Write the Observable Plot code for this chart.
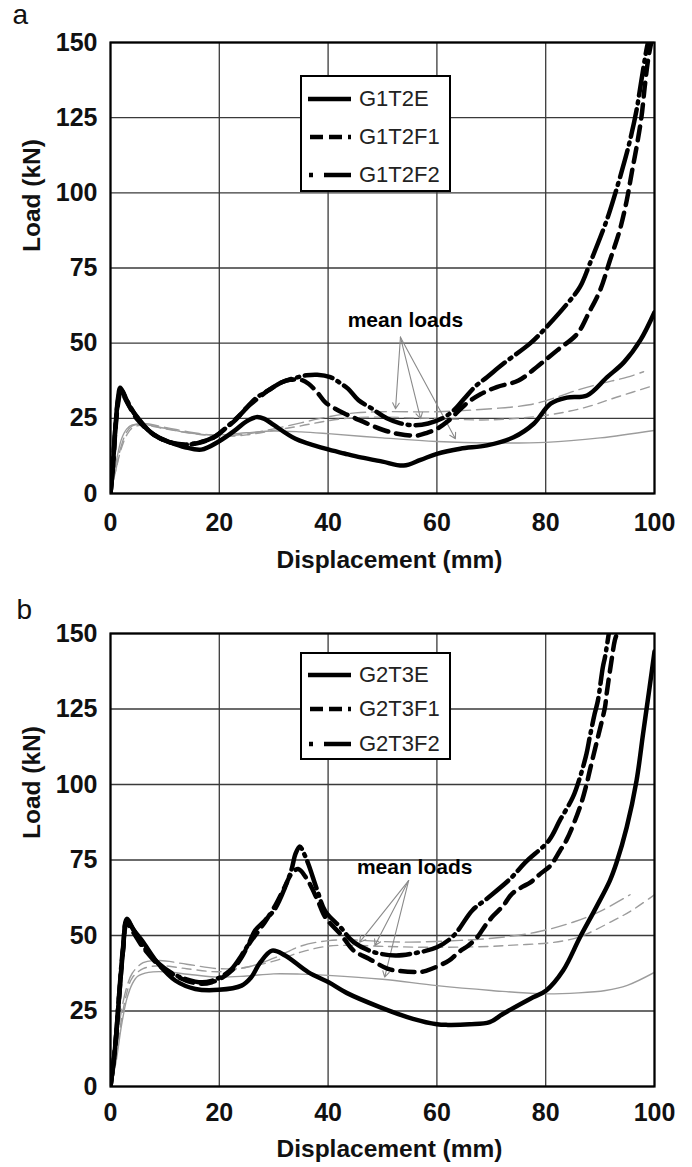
<!DOCTYPE html>
<html><head><meta charset="utf-8">
<script src="https://cdn.jsdelivr.net/npm/d3@7"></script>
<script src="https://cdn.jsdelivr.net/npm/@observablehq/plot@0.6"></script>
<style>
body{margin:0;background:#fff;font-family:"Liberation Sans",Arial,sans-serif;}
#page{position:relative;width:692px;height:1167px;overflow:hidden;background:#fff;}
.panel{position:absolute;left:0;width:692px;}
.legend{position:absolute;box-sizing:border-box;border:2.5px solid #000;background:#fff;}
.legend .row{position:absolute;left:0;width:100%;height:30px;}
.legend .row svg{position:absolute;left:6px;top:12px;}
.legend .row span{position:absolute;left:57px;top:2px;font-size:22px;color:#222;line-height:26px;white-space:nowrap;}
</style>
</head><body>
<div id="page"></div>
<script>
// ---------- data ----------
const xTicks = [0, 20, 40, 60, 80, 100];
const yTicks = [0, 25, 50, 75, 100, 125, 150];
const xLabel = "Displacement (mm)";
const yLabel = "Load (kN)";
const meanText = "mean loads";

// Panel a
const seriesA = ["G1T2E", "G1T2F1", "G1T2F2"];
const a_G1T2E = [[0,0],[0.4,8],[0.9,22],[1.4,32],[1.8,35.2],[2.5,33],[3.5,29],[5.1,25],[7,21],[8.8,18.7],[11,17],[13.7,15.4],[16.7,14.6],[19.9,17.3],[22.9,21],[25,24],[26.8,25.4],[28.3,24.8],[30,22.8],[34,18.2],[39.5,14.9],[43,13.3],[46,12],[50,10.6],[53.9,9.3],[57,11.2],[60,13.2],[64.3,14.9],[69.2,16],[74.1,18.7],[77.8,23.2],[80.9,29.9],[83.9,31.9],[87.6,32.6],[91.3,38.7],[94.4,43.7],[97.4,51],[100,60.3]];
const a_G1T2F1 = [[0,0],[0.4,8],[0.9,21],[1.4,30],[1.9,34],[3,30.5],[5,24.5],[8,19.5],[11,17],[14,16.3],[17,17.2],[19,18.7],[21,21.5],[23,24.5],[25,28.5],[27,31.5],[29,34.3],[31.5,37],[33,37.8],[35,37.8],[36.4,36.5],[38.2,33.2],[39.5,30.3],[41.3,28.2],[43,26.6],[45,25],[47,23.4],[50,21.2],[53,19.8],[56.4,19.3],[58.2,20.2],[60,21.5],[62,24],[65.5,30],[68,33],[71,35.4],[75,37.6],[78.7,42.6],[82.1,47.6],[85.8,53.1],[87.9,60],[90,67.6],[91.8,77.5],[93.6,87.5],[94.9,97.5],[95.8,106.5],[96.7,115.2],[97.6,125.2],[98.2,135.2],[98.8,144],[99.4,150]];
const a_G1T2F2 = [[0,0],[0.4,8],[0.9,22],[1.4,31],[1.9,34.5],[3,31],[5,25],[8,19.5],[12,16.5],[15,16.5],[19,18.7],[21.7,22.6],[24,26.5],[26.6,31.5],[29,34.3],[31.5,37],[34.5,38.7],[36,39.3],[38,39.5],[40.4,38.7],[42,37],[43.7,34.8],[45.6,31],[48,28.3],[50.8,25],[53,23.5],[55.4,22.7],[58.4,23.3],[61,25],[63,27.5],[65,31.5],[67,35.5],[69.2,38.7],[72.3,43.3],[77.2,50],[79.6,54.3],[83.9,63],[86.3,68.7],[88.1,76.4],[91.2,90.8],[92.4,97.5],[94.2,108.6],[95.5,117.5],[96.7,127.5],[97.6,137.5],[98.5,147.4],[98.8,150]];
const a_meanE = [[0,0],[1,10],[2,18],[3,21.5],[4,22.8],[6,23],[10,21.7],[15,20],[20,19.5],[25,20.2],[30,20.8],[35,20.5],[40,19.9],[50,18.5],[60,17.3],[70,16.8],[80,17],[90,18.5],[100,21]];
const a_meanF1 = [[0,0],[1,8],[2,15],[3,19.5],[4,21.8],[6,22.8],[10,21.5],[15,20],[20,19],[25,19.5],[30,21],[35,22.5],[40,24.2],[45,25.2],[50,25.4],[60,24.9],[70,24.5],[80,26],[87,28.5],[93,32],[100,36]];
const a_meanF2 = [[0,0],[1,8],[2,16],[3,20.5],[4,22.5],[6,23.3],[10,22],[15,20.3],[20,19.2],[25,19.8],[30,21.5],[35,23.5],[40,25.5],[45,26.8],[50,27.2],[60,27.2],[70,28.2],[77,29.5],[82,32],[86,34.5],[90,36.5],[95,38.7],[98,40.5]];
const a_meanLabel = [43.6, 55.3];
const a_arrowFrom = [53.3, 52];
const a_arrowTo = [[52.4,28.2],[57,24.9],[63.4,18.2]];

// Panel b
const seriesB = ["G2T3E", "G2T3F1", "G2T3F2"];
const b_G2T3E = [[0,0],[0.8,12],[1.6,30],[2.3,45],[3,55.5],[4.2,52],[5.8,48.3],[8.8,40.6],[11.9,35.1],[15.6,32.3],[19.9,32],[24.1,33.4],[25.8,36],[27.5,41],[29.7,45],[32.1,43.4],[36.4,37.8],[40.1,34.5],[43.4,31],[49.5,26.3],[55.6,22.4],[60,20.6],[62,20.4],[66,20.6],[69.7,21.3],[72.2,24.1],[77.1,29],[80.1,31.8],[83.2,38.4],[86.3,49.4],[89.3,59.4],[91.8,68.2],[93,74],[94.9,85.9],[96.7,101.3],[97.9,116.8],[99.1,132.2],[100,144]];
const b_G2T3F1 = [[0,0],[0.8,12],[1.6,30],[2.3,45],[3,54],[4.2,51],[6,46],[9,40],[11.3,37.3],[14,35],[16.8,34],[18.6,34.5],[20.5,36],[22.3,38.4],[24.1,42.8],[25.4,47],[27,51],[28.4,54.5],[30.3,60],[32,66],[33.3,70.5],[34.5,72],[36,69],[38,62],[39.5,56],[42.5,50],[44.7,45],[47.5,42.3],[50.9,39],[52.4,38.4],[56.7,37.9],[58,38.3],[62.2,41.7],[64,44.5],[65.8,46.7],[67.4,49.4],[68.9,53.3],[70.4,56.6],[72.2,59.9],[73.8,63.8],[75.6,66],[77.2,67.6],[79,70.4],[80.9,73.2],[82.6,78],[83.8,81.5],[86.3,92.5],[87.5,100],[88.1,104.6],[89.3,113.5],[89.9,117.9],[90.9,125.6],[91.2,130],[92.1,141.1],[92.7,147.7],[93.1,150]];
const b_G2T3F2 = [[0,0],[0.8,12],[1.6,31],[2.3,46],[3,55],[4.2,52],[6,46.5],[9,40.5],[11.3,37.5],[14,35.5],[16.8,34.5],[18.6,35],[20.5,36.5],[22.3,39],[24.1,43.5],[25.4,47.3],[26.6,51.7],[28.4,55],[30.3,59],[32.1,66],[33.3,72],[34,77],[34.8,79.5],[35.6,77],[36.4,73.5],[38,65],[39.5,58],[42.3,52.7],[44.7,47.8],[48.4,44.5],[52.4,43.4],[55.1,43.9],[60,46.1],[63.1,50],[66.5,58.3],[69.2,62.2],[73.5,68.8],[76.3,74.3],[80.6,81.5],[82.6,88.1],[85,95.8],[86.3,102.4],[87.5,110.2],[88.1,115.7],[89,123.4],[89.6,127.8],[90.5,138.8],[90.9,142.2],[91.6,150]];
const b_meanE = [[0,0],[1,8],[2,20],[3,29],[4,34],[5,36.5],[7,37.8],[10,38],[15,37],[20,36.2],[25,36.6],[30,37.3],[35,37.2],[40,36.8],[50,35.5],[60,33.4],[70,31.8],[79,30.7],[86,31],[91,31.8],[95,33.5],[100,37.8]];
const b_meanF1 = [[0,0],[1,10],[2,22],[3,31],[4,36],[6,39],[9,40],[14,39],[20,38],[25,39.5],[30,41.5],[35,44.5],[40,46.5],[45,46.7],[50,46.4],[60,46.1],[73,46.7],[85,48.9],[92.5,55],[96,58.5],[100,63.5]];
const b_meanF2 = [[0,0],[1,12],[2,25],[3,33],[4,37.5],[6,41],[9,41.7],[14,40.5],[20,39],[25,39.5],[30,42.5],[35,46.5],[40,48.3],[45,48.5],[50,48],[55,47.8],[62,48.2],[69,48.9],[78,51],[85,54.4],[90,58],[95.5,63.5]];
const b_meanLabel = [45.3, 70.5];
const b_arrowFrom = [54.8, 68.2];
const b_arrowTo = [[45.8,47.8],[48.6,46.7],[50.4,36.2]];

// ---------- styles ----------
const FONT = '"Liberation Sans", Arial, Helvetica, sans-serif';
const dashes = {E: null, F1: "14,8", F2: "28,6,2,6"};
const meanDashes = {E: null, F1: "9,6", F2: "15,6"};

function rows(pairs){ return pairs.map(([x, y]) => ({x, y})); }

function makePanel(cfg){
  const black = [cfg.E, cfg.F1, cfg.F2];
  const means = [cfg.mE, cfg.mF1, cfg.mF2];
  const keys = ["E","F1","F2"];
  const marks = [
    Plot.gridX(xTicks, {stroke:"#3a3a3a", strokeOpacity:1, strokeWidth:1.3}),
    Plot.gridY(yTicks, {stroke:"#3a3a3a", strokeOpacity:1, strokeWidth:1.3}),
  ];
  means.forEach((m, i) => marks.push(Plot.line(rows(m), {x:"x", y:"y", stroke:"#9c9c9c", strokeWidth:1.4,
    strokeDasharray: meanDashes[keys[i]] || undefined, curve:"catmull-rom", clip:true})));
  marks.push(Plot.arrow(cfg.arrowTo.map(t => ({x1:cfg.arrowFrom[0], y1:cfg.arrowFrom[1], x2:t[0], y2:t[1]})),
    {x1:"x1", y1:"y1", x2:"x2", y2:"y2", stroke:"#8a8a8a", strokeWidth:1.1, headLength:9, bend:0}));
  marks.push(Plot.text([{x:cfg.meanLabel[0], y:cfg.meanLabel[1], t:meanText}],
    {x:"x", y:"y", text:"t", textAnchor:"start", lineAnchor:"bottom", fontSize:21, fontWeight:"bold", fill:"#000"}));
  black.forEach((d, i) => marks.push(Plot.line(rows(d), {x:"x", y:"y", stroke:"#000", strokeWidth:4.5,
    strokeDasharray: dashes[keys[i]] || undefined, strokeLinejoin:"round", curve:"catmull-rom", clip:true})));
  marks.push(Plot.frame({stroke:"#000", strokeWidth:2.2}));
  marks.push(Plot.axisX(xTicks, {tickSize:0, tickPadding:cfg.xPad, fontSize:25, fontWeight:"bold", fill:"#111", label:null}));
  marks.push(Plot.axisY(yTicks, {tickSize:0, tickPadding:13, fontSize:25, fontWeight:"bold", fill:"#111", label:null}));
  marks.push(Plot.text([xLabel], {frameAnchor:"bottom", dx:7, dy:cfg.xLabelDy, lineAnchor:"middle", fontSize:24.5, fontWeight:"bold", fill:"#111"}));
  marks.push(Plot.text([yLabel], {frameAnchor:"left", dx:-78, dy:cfg.yLabelDy, rotate:-90, lineAnchor:"middle", fontSize:24.5, fontWeight:"bold", fill:"#111"}));
  marks.push(Plot.text([cfg.letter], {frameAnchor:"top-left", dx:cfg.letterDx, dy:cfg.letterDy, textAnchor:"start", lineAnchor:"middle", fontSize:28, fontWeight:"normal", fill:"#111"}));
  return Plot.plot({
    width:692, height:cfg.height,
    marginTop:cfg.mt, marginBottom:cfg.mb, marginLeft:110, marginRight:38,
    x:{domain:[0,100]}, y:{domain:[0,150]},
    style:{fontFamily:FONT, background:"#fff", overflow:"visible"},
    marks
  });
}

function legendSample(key){
  const ns = "http://www.w3.org/2000/svg";
  const s = document.createElementNS(ns, "svg");
  s.setAttribute("width", 44); s.setAttribute("height", 6);
  const l = document.createElementNS(ns, "line");
  l.setAttribute("x1", 0); l.setAttribute("x2", 43); l.setAttribute("y1", 3); l.setAttribute("y2", 3);
  l.setAttribute("stroke", "#000"); l.setAttribute("stroke-width", 4.5);
  if (key === "F1") { l.setAttribute("stroke-dasharray", "13,6"); l.setAttribute("stroke-dashoffset", "-2"); }
  if (key === "F2") { l.setAttribute("stroke-dasharray", "4,11,28,6"); l.setAttribute("x1", 1); }
  s.appendChild(l);
  return s;
}

function makeLegend(names, box){
  const div = document.createElement("div");
  div.className = "legend";
  Object.assign(div.style, {left:box.left+"px", top:box.top+"px", width:box.width+"px", height:box.height+"px"});
  const keys = ["E","F1","F2"];
  names.forEach((n, i) => {
    const r = document.createElement("div");
    r.className = "row";
    r.style.top = (box.rows[i] - 15) + "px";
    r.appendChild(legendSample(keys[i]));
    const sp = document.createElement("span");
    sp.textContent = n;
    r.appendChild(sp);
    div.appendChild(r);
  });
  return div;
}

const page = document.getElementById("page");

const pa = document.createElement("div"); pa.className = "panel"; pa.style.top = "0px";
pa.appendChild(makePanel({E:a_G1T2E, F1:a_G1T2F1, F2:a_G1T2F2, mE:a_meanE, mF1:a_meanF1, mF2:a_meanF2,
  meanLabel:a_meanLabel, arrowFrom:a_arrowFrom, arrowTo:a_arrowTo,
  height:584, mt:42, mb:91, xPad:20, xLabelDy:67, yLabelDy:-16, letter:"a", letterDx:-98, letterDy:-27}));
pa.appendChild(makeLegend(seriesA, {left:300, top:75, width:151, height:117, rows:[22, 60, 98]}));
page.appendChild(pa);

const pb = document.createElement("div"); pb.className = "panel"; pb.style.top = "584px";
pb.appendChild(makePanel({E:b_G2T3E, F1:b_G2T3F1, F2:b_G2T3F2, mE:b_meanE, mF1:b_meanF1, mF2:b_meanF2,
  meanLabel:b_meanLabel, arrowFrom:b_arrowFrom, arrowTo:b_arrowTo,
  height:583, mt:49, mb:81, xPad:17, xLabelDy:63, yLabelDy:-21, letter:"b", letterDx:-94, letterDy:-23}));
pb.appendChild(makeLegend(seriesB, {left:300, top:68, width:151, height:108, rows:[21, 55, 90]}));
page.appendChild(pb);
</script>
</body></html>
